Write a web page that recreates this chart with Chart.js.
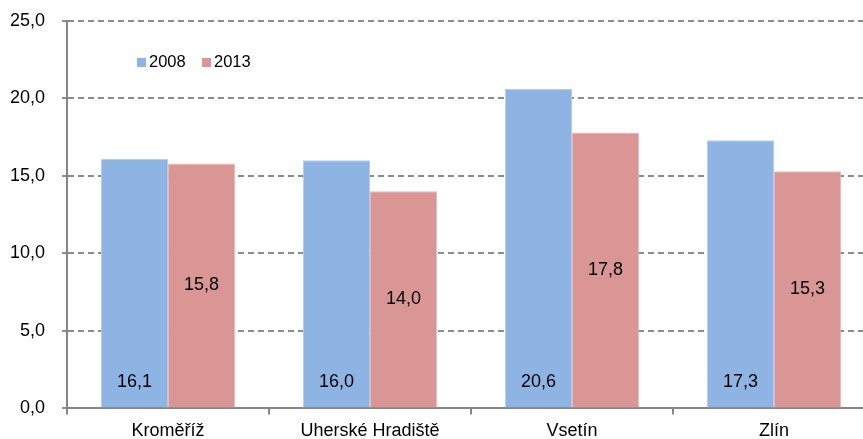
<!DOCTYPE html>
<html>
<head>
<meta charset="utf-8">
<script src="https://cdn.jsdelivr.net/npm/chart.js@4"></script>
<style>
  html, body { margin: 0; padding: 0; background: #fff; overflow: hidden; }
  #myChart { display: block; margin-top: -7px; }
</style>
</head>
<body>
<canvas id="myChart" width="880" height="446"></canvas>
<script>
// okresy
const districts = ['Kroměříž', 'Uherské Hradiště', 'Vsetín', 'Zlín'];
// hodnoty za roky
const values2008 = [16.1, 16.0, 20.6, 17.3];
const values2013 = [15.8, 14.0, 17.8, 15.3];
const seriesNames = ['2008', '2013'];
const yTicks = [0, 5, 10, 15, 20, 25];

const FONT = 'Liberation Sans, Arial, sans-serif';
const fmt = (v) => v.toFixed(1).replace('.', ',');

// popisky hodnot v sloupcich
const valueLabels = {
	id: 'valueLabels',
	afterDatasetsDraw(chart) {
		const c = chart.ctx;
		c.save();
		c.font = '18px ' + FONT;
		c.fillStyle = '#000';
		c.textAlign = 'center';
		c.textBaseline = 'middle';
		chart.data.datasets.forEach((ds, i) => {
			chart.getDatasetMeta(i).data.forEach((bar, j) => {
				let y;
				if (i === 0) {
					y = bar.base - 25;
				} else {
					y = (bar.y + bar.base) / 2;
				}
				c.fillText(fmt(ds.data[j]), bar.x, y);
			});
		});
		c.restore();
	}
};

// legenda uvnitr grafu
const innerLegend = {
	id: 'innerLegend',
	afterDraw(chart) {
		const c = chart.ctx;
		c.save();
		c.font = '16.5px ' + FONT;
		c.textBaseline = 'middle';
		let x = 137;
		const y = 62 + 7;
		chart.data.datasets.forEach((ds) => {
			c.fillStyle = ds.backgroundColor;
			c.fillRect(x, y - 4, 9, 9);
			c.fillStyle = '#000';
			c.fillText(ds.label, x + 12, y);
			x += 65;
		});
		c.restore();
	}
};

new Chart(document.getElementById('myChart'), {
	type: 'bar',
	data: {
		labels: districts,
		datasets: [{
			label: seriesNames[0],
			data: values2008,
			backgroundColor: '#8EB4E3',
			borderColor: '#B4CDEE',
			borderWidth: 1,
			categoryPercentage: 0.665,
			barPercentage: 1
		}, {
			label: seriesNames[1],
			data: values2013,
			backgroundColor: '#D99694',
			borderColor: '#E6B9B8',
			borderWidth: 1,
			categoryPercentage: 0.665,
			barPercentage: 1
		}]
	},
	options: {
		responsive: false,
		animation: false,
		layout: { padding: { top: -1, left: -7, right: 5, bottom: -9 } },
		plugins: {
			legend: { display: false },
			tooltip: { enabled: false }
		},
		scales: {
			x: {
				grid: {
					drawOnChartArea: false,
					drawTicks: true,
					tickLength: 6,
					color: '#868686',
					lineWidth: 2
				},
				border: { color: '#868686', width: 2 },
				ticks: {
					color: '#000',
					font: { family: FONT, size: 18 },
					padding: 6
				}
			},
			y: {
				min: 0,
				max: 25,
				afterBuildTicks: (axis) => {
					axis.ticks = yTicks.map((v) => ({ value: v }));
				},
				grid: {
					color: '#8C8C8C',
					lineWidth: 2,
					tickLength: 5
				},
				border: { color: '#868686', width: 2, dash: [6, 4] },
				ticks: {
					color: '#000',
					font: { family: FONT, size: 18 },
					padding: 17,
					callback: (v) => fmt(v)
				}
			}
		}
	},
	plugins: [valueLabels, innerLegend]
});
</script>
</body>
</html>
